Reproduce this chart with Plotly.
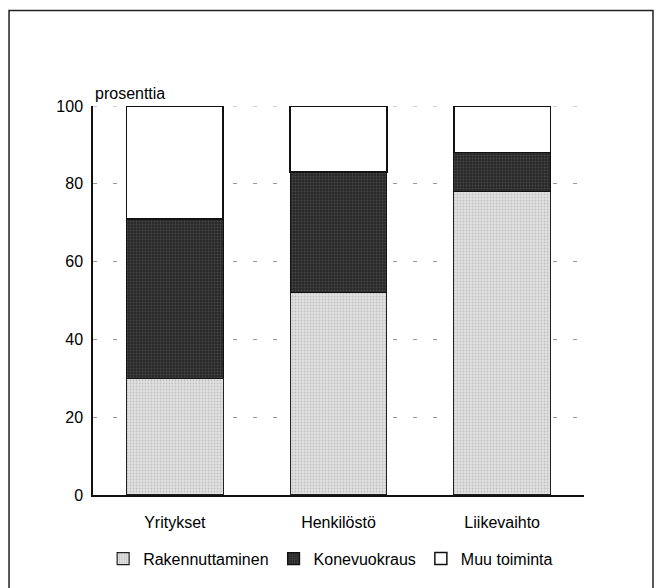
import plotly.graph_objects as go

categories = ["Yritykset", "Henkilöstö", "Liikevaihto"]
rakennuttaminen = [30, 52, 78]
konevuokraus = [41, 31, 10]
muu_toiminta = [29, 17, 12]
y_ticks = [0, 20, 40, 60, 80, 100]

FONT = "Liberation Sans, Arial, Helvetica, sans-serif"

fig = go.Figure()
fig.add_trace(go.Bar(
    x=categories, y=rakennuttaminen, name="Rakennuttaminen",
    marker=dict(color="#dddddd", line=dict(color="#222", width=1.2),
                pattern=dict(shape=".", fgcolor="#9a9a9a", bgcolor="#e2e2e2", size=3, solidity=0.3)),
))
fig.add_trace(go.Bar(
    x=categories, y=konevuokraus, name="Konevuokraus",
    marker=dict(color="#3a3a3a", line=dict(color="#111", width=1.2),
                pattern=dict(shape=".", fgcolor="#6a6a6a", bgcolor="#262626", size=3, solidity=0.35)),
))
fig.add_trace(go.Bar(
    x=categories, y=muu_toiminta, name="Muu toiminta",
    marker=dict(color="#ffffff", line=dict(color="#111", width=1.5)),
))

fig.update_layout(
    barmode="stack",
    bargap=0.41,
    width=664, height=588,
    margin=dict(l=93, r=80, t=106, b=91),
    paper_bgcolor="white",
    plot_bgcolor="white",
    font=dict(family=FONT, size=16, color="#000"),
    showlegend=True,
    legend=dict(orientation="h", x=0.484, xanchor="center", y=-0.12, yanchor="top",
                font=dict(family=FONT, size=16, color="#000"),
                traceorder="normal", itemwidth=30),
    xaxis=dict(range=[-0.5, 2.5], showline=True, linecolor="#111", linewidth=2,
               ticks="", showgrid=False, zeroline=False, ticklabelstandoff=12,
               tickfont=dict(family=FONT, size=16, color="#000")),
    yaxis=dict(range=[0, 100], tickvals=y_ticks, showline=True, linecolor="#111", linewidth=1.5,
               ticks="", showgrid=True, gridcolor="#9a9a9a", gridwidth=1, griddash="4px,16px",
               zeroline=False, ticklabelstandoff=5,
               tickfont=dict(family=FONT, size=16, color="#000")),
    annotations=[dict(text="prosenttia", xref="paper", yref="paper", x=0.0, y=1.0,
                      xanchor="left", yanchor="bottom", yshift=2, showarrow=False,
                      font=dict(family=FONT, size=16, color="#000"))],
    shapes=[
        dict(type="rect", xref="paper", yref="paper",
             x0=-0.171, x1=1.1405, y0=-0.27, y1=1.2455,
             line=dict(color="#222", width=1.5), fillcolor="rgba(0,0,0,0)", layer="below"),
        dict(type="line", xref="paper", yref="y", x0=0, x1=1, y0=y_ticks[-1], y1=y_ticks[-1],
             line=dict(color="#9a9a9a", width=1, dash="4px,16px"), layer="below"),
    ],
)

fig.write_html("out.html", config={"displayModeBar": False},
               post_script="document.body.style.margin='0';document.body.style.overflow='hidden';")
